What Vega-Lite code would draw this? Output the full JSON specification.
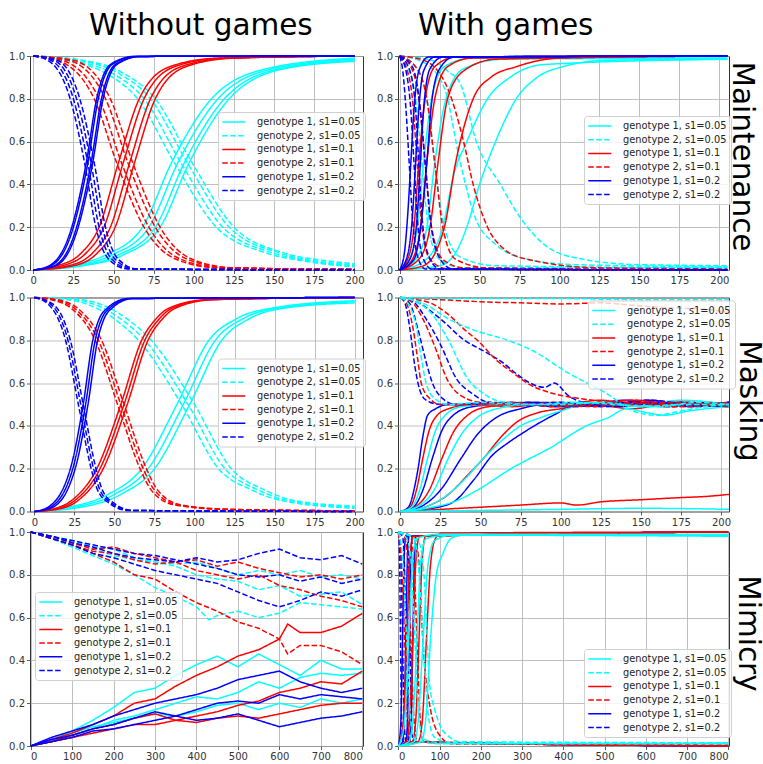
{
"$schema":"https://vega.github.io/schema/vega-lite/v6.json",
"background":"white",
"padding":{"left":8,"top":10,"right":0,"bottom":0},
"config":{
"view":{"stroke":"#333","strokeWidth":1},
"font":"DejaVu Sans",
"axis":{"labelFont":"DejaVu Sans","labelFontSize":10,"labelColor":"#333","tickColor":"#333","tickSize":3.5,"tickWidth":0.8,"domain":false,"grid":true,"gridColor":"#b0b0b0","gridWidth":0.8,"title":null,"labelPadding":2,"titleFontWeight":"normal"},
"legend":{"orient":"none","title":null,"labelFont":"DejaVu Sans","labelFontSize":9.8,"labelColor":"#222","symbolType":"M-2.3,0H2.3","symbolSize":100,"symbolStrokeWidth":1.5,"padding":4,"strokeColor":"#d0d0d0","fillColor":"rgba(255,255,255,0.8)","cornerRadius":3,"rowPadding":2.7,"labelOffset":17.3,"symbolOffset":5.8},
"line":{"strokeWidth":1.5}
},
"datasets":{
"p1":[
{"k":"a","r":1,"x":0,"y":0},{"k":"a","r":1,"x":20,"y":0.02},{"k":"a","r":1,"x":45,"y":0.07},{"k":"a","r":1,"x":68,"y":0.2},{"k":"a","r":1,"x":86,"y":0.5},{"k":"a","r":1,"x":111,"y":0.8},{"k":"a","r":1,"x":145,"y":0.94},{"k":"a","r":1,"x":200,"y":0.99},
{"k":"a","r":2,"x":0,"y":0},{"k":"a","r":2,"x":24,"y":0.02},{"k":"a","r":2,"x":49,"y":0.07},{"k":"a","r":2,"x":72,"y":0.2},{"k":"a","r":2,"x":90,"y":0.5},{"k":"a","r":2,"x":115,"y":0.8},{"k":"a","r":2,"x":149,"y":0.94},{"k":"a","r":2,"x":200,"y":0.985},
{"k":"a","r":3,"x":0,"y":0},{"k":"a","r":3,"x":28,"y":0.02},{"k":"a","r":3,"x":53,"y":0.07},{"k":"a","r":3,"x":76,"y":0.2},{"k":"a","r":3,"x":94,"y":0.5},{"k":"a","r":3,"x":119,"y":0.8},{"k":"a","r":3,"x":153,"y":0.94},{"k":"a","r":3,"x":200,"y":0.98},
{"k":"a","r":4,"x":0,"y":0},{"k":"a","r":4,"x":31,"y":0.02},{"k":"a","r":4,"x":56,"y":0.07},{"k":"a","r":4,"x":79,"y":0.2},{"k":"a","r":4,"x":97,"y":0.5},{"k":"a","r":4,"x":122,"y":0.8},{"k":"a","r":4,"x":156,"y":0.94},{"k":"a","r":4,"x":200,"y":0.975},
{"k":"b","r":1,"x":0,"y":1},{"k":"b","r":1,"x":20,"y":0.98},{"k":"b","r":1,"x":45,"y":0.92},{"k":"b","r":1,"x":65,"y":0.8},{"k":"b","r":1,"x":88,"y":0.5},{"k":"b","r":1,"x":114,"y":0.2},{"k":"b","r":1,"x":145,"y":0.08},{"k":"b","r":1,"x":170,"y":0.04},{"k":"b","r":1,"x":200,"y":0.015},
{"k":"b","r":2,"x":0,"y":1},{"k":"b","r":2,"x":24,"y":0.98},{"k":"b","r":2,"x":49,"y":0.92},{"k":"b","r":2,"x":69,"y":0.8},{"k":"b","r":2,"x":92,"y":0.5},{"k":"b","r":2,"x":118,"y":0.2},{"k":"b","r":2,"x":149,"y":0.08},{"k":"b","r":2,"x":174,"y":0.04},{"k":"b","r":2,"x":200,"y":0.02},
{"k":"b","r":3,"x":0,"y":1},{"k":"b","r":3,"x":28,"y":0.98},{"k":"b","r":3,"x":53,"y":0.92},{"k":"b","r":3,"x":73,"y":0.8},{"k":"b","r":3,"x":96,"y":0.5},{"k":"b","r":3,"x":122,"y":0.2},{"k":"b","r":3,"x":153,"y":0.08},{"k":"b","r":3,"x":178,"y":0.04},{"k":"b","r":3,"x":200,"y":0.025},
{"k":"b","r":4,"x":0,"y":1},{"k":"b","r":4,"x":31,"y":0.98},{"k":"b","r":4,"x":56,"y":0.92},{"k":"b","r":4,"x":76,"y":0.8},{"k":"b","r":4,"x":99,"y":0.5},{"k":"b","r":4,"x":125,"y":0.2},{"k":"b","r":4,"x":156,"y":0.08},{"k":"b","r":4,"x":181,"y":0.045},{"k":"b","r":4,"x":200,"y":0.03},
{"k":"c","r":1,"x":0,"y":0},{"k":"c","r":1,"x":15,"y":0.02},{"k":"c","r":1,"x":30,"y":0.08},{"k":"c","r":1,"x":41,"y":0.2},{"k":"c","r":1,"x":53,"y":0.5},{"k":"c","r":1,"x":66,"y":0.8},{"k":"c","r":1,"x":85,"y":0.95},{"k":"c","r":1,"x":115,"y":0.99},{"k":"c","r":1,"x":200,"y":1},
{"k":"c","r":2,"x":0,"y":0},{"k":"c","r":2,"x":18,"y":0.02},{"k":"c","r":2,"x":33,"y":0.08},{"k":"c","r":2,"x":44,"y":0.2},{"k":"c","r":2,"x":56,"y":0.5},{"k":"c","r":2,"x":69,"y":0.8},{"k":"c","r":2,"x":88,"y":0.95},{"k":"c","r":2,"x":118,"y":0.99},{"k":"c","r":2,"x":200,"y":1},
{"k":"c","r":3,"x":0,"y":0},{"k":"c","r":3,"x":22,"y":0.02},{"k":"c","r":3,"x":37,"y":0.08},{"k":"c","r":3,"x":48,"y":0.2},{"k":"c","r":3,"x":60,"y":0.5},{"k":"c","r":3,"x":73,"y":0.8},{"k":"c","r":3,"x":92,"y":0.95},{"k":"c","r":3,"x":122,"y":0.99},{"k":"c","r":3,"x":200,"y":1},
{"k":"c","r":4,"x":0,"y":0},{"k":"c","r":4,"x":25,"y":0.02},{"k":"c","r":4,"x":40,"y":0.08},{"k":"c","r":4,"x":51,"y":0.2},{"k":"c","r":4,"x":63,"y":0.5},{"k":"c","r":4,"x":76,"y":0.8},{"k":"c","r":4,"x":95,"y":0.95},{"k":"c","r":4,"x":125,"y":0.99},{"k":"c","r":4,"x":200,"y":1},
{"k":"d","r":1,"x":0,"y":1},{"k":"d","r":1,"x":15,"y":0.98},{"k":"d","r":1,"x":38,"y":0.8},{"k":"d","r":1,"x":52,"y":0.5},{"k":"d","r":1,"x":69,"y":0.2},{"k":"d","r":1,"x":89,"y":0.05},{"k":"d","r":1,"x":115,"y":0.01},{"k":"d","r":1,"x":200,"y":0.003},
{"k":"d","r":2,"x":0,"y":1},{"k":"d","r":2,"x":18,"y":0.98},{"k":"d","r":2,"x":41,"y":0.8},{"k":"d","r":2,"x":55,"y":0.5},{"k":"d","r":2,"x":72,"y":0.2},{"k":"d","r":2,"x":92,"y":0.05},{"k":"d","r":2,"x":118,"y":0.01},{"k":"d","r":2,"x":200,"y":0.003},
{"k":"d","r":3,"x":0,"y":1},{"k":"d","r":3,"x":22,"y":0.98},{"k":"d","r":3,"x":45,"y":0.8},{"k":"d","r":3,"x":59,"y":0.5},{"k":"d","r":3,"x":76,"y":0.2},{"k":"d","r":3,"x":96,"y":0.05},{"k":"d","r":3,"x":122,"y":0.01},{"k":"d","r":3,"x":200,"y":0.003},
{"k":"d","r":4,"x":0,"y":1},{"k":"d","r":4,"x":25,"y":0.98},{"k":"d","r":4,"x":48,"y":0.8},{"k":"d","r":4,"x":62,"y":0.5},{"k":"d","r":4,"x":79,"y":0.2},{"k":"d","r":4,"x":99,"y":0.05},{"k":"d","r":4,"x":125,"y":0.01},{"k":"d","r":4,"x":200,"y":0.003},
{"k":"e","r":1,"x":0,"y":0},{"k":"e","r":1,"x":10,"y":0.02},{"k":"e","r":1,"x":24,"y":0.2},{"k":"e","r":1,"x":33,"y":0.5},{"k":"e","r":1,"x":39.5,"y":0.8},{"k":"e","r":1,"x":48,"y":0.96},{"k":"e","r":1,"x":63,"y":0.998},{"k":"e","r":1,"x":200,"y":1},
{"k":"e","r":2,"x":0,"y":0},{"k":"e","r":2,"x":11,"y":0.02},{"k":"e","r":2,"x":25,"y":0.2},{"k":"e","r":2,"x":34,"y":0.5},{"k":"e","r":2,"x":40.5,"y":0.8},{"k":"e","r":2,"x":49,"y":0.96},{"k":"e","r":2,"x":64,"y":0.998},{"k":"e","r":2,"x":200,"y":1},
{"k":"e","r":3,"x":0,"y":0},{"k":"e","r":3,"x":13,"y":0.02},{"k":"e","r":3,"x":27,"y":0.2},{"k":"e","r":3,"x":36,"y":0.5},{"k":"e","r":3,"x":42.5,"y":0.8},{"k":"e","r":3,"x":51,"y":0.96},{"k":"e","r":3,"x":66,"y":0.998},{"k":"e","r":3,"x":200,"y":1},
{"k":"e","r":4,"x":0,"y":0},{"k":"e","r":4,"x":14,"y":0.02},{"k":"e","r":4,"x":28,"y":0.2},{"k":"e","r":4,"x":37,"y":0.5},{"k":"e","r":4,"x":43.5,"y":0.8},{"k":"e","r":4,"x":52,"y":0.96},{"k":"e","r":4,"x":67,"y":0.998},{"k":"e","r":4,"x":200,"y":1},
{"k":"f","r":1,"x":0,"y":1},{"k":"f","r":1,"x":9,"y":0.98},{"k":"f","r":1,"x":23,"y":0.8},{"k":"f","r":1,"x":32,"y":0.5},{"k":"f","r":1,"x":39,"y":0.2},{"k":"f","r":1,"x":47,"y":0.05},{"k":"f","r":1,"x":59,"y":0.005},{"k":"f","r":1,"x":200,"y":0},
{"k":"f","r":2,"x":0,"y":1},{"k":"f","r":2,"x":11,"y":0.98},{"k":"f","r":2,"x":25,"y":0.8},{"k":"f","r":2,"x":34,"y":0.5},{"k":"f","r":2,"x":41,"y":0.2},{"k":"f","r":2,"x":49,"y":0.05},{"k":"f","r":2,"x":61,"y":0.005},{"k":"f","r":2,"x":200,"y":0},
{"k":"f","r":3,"x":0,"y":1},{"k":"f","r":3,"x":13,"y":0.98},{"k":"f","r":3,"x":27,"y":0.8},{"k":"f","r":3,"x":36,"y":0.5},{"k":"f","r":3,"x":43,"y":0.2},{"k":"f","r":3,"x":51,"y":0.05},{"k":"f","r":3,"x":63,"y":0.005},{"k":"f","r":3,"x":200,"y":0},
{"k":"f","r":4,"x":0,"y":1},{"k":"f","r":4,"x":15,"y":0.98},{"k":"f","r":4,"x":29,"y":0.8},{"k":"f","r":4,"x":38,"y":0.5},{"k":"f","r":4,"x":45,"y":0.2},{"k":"f","r":4,"x":53,"y":0.05},{"k":"f","r":4,"x":65,"y":0.005},{"k":"f","r":4,"x":200,"y":0}
],
"p2":[
{"k":"a","r":1,"x":0,"y":0},{"k":"a","r":1,"x":6,"y":0.05},{"k":"a","r":1,"x":11,"y":0.2},{"k":"a","r":1,"x":15,"y":0.5},{"k":"a","r":1,"x":20,"y":0.8},{"k":"a","r":1,"x":28,"y":0.95},{"k":"a","r":1,"x":45,"y":0.99},{"k":"a","r":1,"x":205,"y":0.99},
{"k":"a","r":2,"x":0,"y":0},{"k":"a","r":2,"x":10,"y":0.05},{"k":"a","r":2,"x":17,"y":0.2},{"k":"a","r":2,"x":22,"y":0.5},{"k":"a","r":2,"x":29,"y":0.8},{"k":"a","r":2,"x":40,"y":0.94},{"k":"a","r":2,"x":65,"y":0.985},{"k":"a","r":2,"x":205,"y":0.99},
{"k":"a","r":3,"x":0,"y":0},{"k":"a","r":3,"x":15,"y":0.04},{"k":"a","r":3,"x":27,"y":0.2},{"k":"a","r":3,"x":34,"y":0.45},{"k":"a","r":3,"x":42,"y":0.6},{"k":"a","r":3,"x":55,"y":0.8},{"k":"a","r":3,"x":69,"y":0.9},{"k":"a","r":3,"x":90,"y":0.96},{"k":"a","r":3,"x":205,"y":0.985},
{"k":"a","r":4,"x":0,"y":0},{"k":"a","r":4,"x":25,"y":0.02},{"k":"a","r":4,"x":35,"y":0.08},{"k":"a","r":4,"x":42,"y":0.2},{"k":"a","r":4,"x":50,"y":0.4},{"k":"a","r":4,"x":60,"y":0.6},{"k":"a","r":4,"x":73,"y":0.8},{"k":"a","r":4,"x":86,"y":0.9},{"k":"a","r":4,"x":102,"y":0.95},{"k":"a","r":4,"x":130,"y":0.98},{"k":"a","r":4,"x":205,"y":0.985},
{"k":"b","r":1,"x":0,"y":1},{"k":"b","r":1,"x":5,"y":0.95},{"k":"b","r":1,"x":10,"y":0.8},{"k":"b","r":1,"x":14,"y":0.5},{"k":"b","r":1,"x":18,"y":0.2},{"k":"b","r":1,"x":25,"y":0.05},{"k":"b","r":1,"x":40,"y":0.01},{"k":"b","r":1,"x":205,"y":0.01},
{"k":"b","r":2,"x":0,"y":1},{"k":"b","r":2,"x":10,"y":0.95},{"k":"b","r":2,"x":17,"y":0.8},{"k":"b","r":2,"x":22,"y":0.5},{"k":"b","r":2,"x":28,"y":0.2},{"k":"b","r":2,"x":38,"y":0.06},{"k":"b","r":2,"x":60,"y":0.02},{"k":"b","r":2,"x":205,"y":0.01},
{"k":"b","r":3,"x":0,"y":1},{"k":"b","r":3,"x":15,"y":0.97},{"k":"b","r":3,"x":28,"y":0.85},{"k":"b","r":3,"x":38,"y":0.5},{"k":"b","r":3,"x":47,"y":0.25},{"k":"b","r":3,"x":60,"y":0.12},{"k":"b","r":3,"x":80,"y":0.05},{"k":"b","r":3,"x":110,"y":0.025},{"k":"b","r":3,"x":205,"y":0.015},
{"k":"b","r":4,"x":0,"y":1},{"k":"b","r":4,"x":20,"y":0.98},{"k":"b","r":4,"x":30,"y":0.93},{"k":"b","r":4,"x":38,"y":0.87},{"k":"b","r":4,"x":48,"y":0.6},{"k":"b","r":4,"x":63,"y":0.4},{"k":"b","r":4,"x":75,"y":0.25},{"k":"b","r":4,"x":94,"y":0.1},{"k":"b","r":4,"x":115,"y":0.05},{"k":"b","r":4,"x":150,"y":0.025},{"k":"b","r":4,"x":205,"y":0.02},
{"k":"c","r":1,"x":0,"y":0},{"k":"c","r":1,"x":5,"y":0.05},{"k":"c","r":1,"x":9,"y":0.2},{"k":"c","r":1,"x":12,"y":0.5},{"k":"c","r":1,"x":16,"y":0.8},{"k":"c","r":1,"x":22,"y":0.95},{"k":"c","r":1,"x":35,"y":0.995},{"k":"c","r":1,"x":205,"y":1},
{"k":"c","r":2,"x":0,"y":0},{"k":"c","r":2,"x":8,"y":0.05},{"k":"c","r":2,"x":13,"y":0.2},{"k":"c","r":2,"x":17,"y":0.5},{"k":"c","r":2,"x":22,"y":0.8},{"k":"c","r":2,"x":30,"y":0.95},{"k":"c","r":2,"x":45,"y":0.99},{"k":"c","r":2,"x":205,"y":1},
{"k":"c","r":3,"x":0,"y":0},{"k":"c","r":3,"x":12,"y":0.05},{"k":"c","r":3,"x":19,"y":0.2},{"k":"c","r":3,"x":24,"y":0.5},{"k":"c","r":3,"x":30,"y":0.8},{"k":"c","r":3,"x":40,"y":0.93},{"k":"c","r":3,"x":60,"y":0.985},{"k":"c","r":3,"x":205,"y":1},
{"k":"c","r":4,"x":0,"y":0},{"k":"c","r":4,"x":15,"y":0.02},{"k":"c","r":4,"x":28,"y":0.2},{"k":"c","r":4,"x":35,"y":0.5},{"k":"c","r":4,"x":46,"y":0.8},{"k":"c","r":4,"x":57,"y":0.9},{"k":"c","r":4,"x":73,"y":0.95},{"k":"c","r":4,"x":100,"y":0.99},{"k":"c","r":4,"x":205,"y":1},
{"k":"d","r":1,"x":0,"y":1},{"k":"d","r":1,"x":4,"y":0.95},{"k":"d","r":1,"x":8,"y":0.8},{"k":"d","r":1,"x":11,"y":0.5},{"k":"d","r":1,"x":14,"y":0.2},{"k":"d","r":1,"x":19,"y":0.05},{"k":"d","r":1,"x":30,"y":0.005},{"k":"d","r":1,"x":205,"y":0},
{"k":"d","r":2,"x":0,"y":1},{"k":"d","r":2,"x":7,"y":0.95},{"k":"d","r":2,"x":12,"y":0.8},{"k":"d","r":2,"x":16,"y":0.5},{"k":"d","r":2,"x":20,"y":0.2},{"k":"d","r":2,"x":27,"y":0.05},{"k":"d","r":2,"x":40,"y":0.01},{"k":"d","r":2,"x":205,"y":0},
{"k":"d","r":3,"x":0,"y":1},{"k":"d","r":3,"x":10,"y":0.95},{"k":"d","r":3,"x":17,"y":0.8},{"k":"d","r":3,"x":22,"y":0.5},{"k":"d","r":3,"x":27,"y":0.2},{"k":"d","r":3,"x":35,"y":0.05},{"k":"d","r":3,"x":55,"y":0.01},{"k":"d","r":3,"x":205,"y":0},
{"k":"d","r":4,"x":0,"y":1},{"k":"d","r":4,"x":15,"y":0.98},{"k":"d","r":4,"x":30,"y":0.85},{"k":"d","r":4,"x":40,"y":0.6},{"k":"d","r":4,"x":46,"y":0.4},{"k":"d","r":4,"x":55,"y":0.2},{"k":"d","r":4,"x":65,"y":0.1},{"k":"d","r":4,"x":80,"y":0.05},{"k":"d","r":4,"x":125,"y":0.01},{"k":"d","r":4,"x":205,"y":0.005},
{"k":"e","r":1,"x":0,"y":0},{"k":"e","r":1,"x":3,"y":0.08},{"k":"e","r":1,"x":5,"y":0.25},{"k":"e","r":1,"x":7,"y":0.5},{"k":"e","r":1,"x":9,"y":0.75},{"k":"e","r":1,"x":12,"y":0.93},{"k":"e","r":1,"x":18,"y":0.995},{"k":"e","r":1,"x":205,"y":1},
{"k":"e","r":2,"x":0,"y":0},{"k":"e","r":2,"x":5,"y":0.07},{"k":"e","r":2,"x":8,"y":0.25},{"k":"e","r":2,"x":10,"y":0.5},{"k":"e","r":2,"x":12,"y":0.75},{"k":"e","r":2,"x":15,"y":0.93},{"k":"e","r":2,"x":22,"y":0.995},{"k":"e","r":2,"x":205,"y":1},
{"k":"e","r":3,"x":0,"y":0},{"k":"e","r":3,"x":7,"y":0.06},{"k":"e","r":3,"x":11,"y":0.25},{"k":"e","r":3,"x":13,"y":0.5},{"k":"e","r":3,"x":15,"y":0.75},{"k":"e","r":3,"x":19,"y":0.94},{"k":"e","r":3,"x":27,"y":0.995},{"k":"e","r":3,"x":205,"y":1},
{"k":"e","r":4,"x":0,"y":0},{"k":"e","r":4,"x":9,"y":0.05},{"k":"e","r":4,"x":14,"y":0.25},{"k":"e","r":4,"x":17,"y":0.5},{"k":"e","r":4,"x":20,"y":0.78},{"k":"e","r":4,"x":25,"y":0.94},{"k":"e","r":4,"x":34,"y":0.995},{"k":"e","r":4,"x":205,"y":1},
{"k":"f","r":1,"x":0,"y":1},{"k":"f","r":1,"x":2,"y":0.93},{"k":"f","r":1,"x":4,"y":0.75},{"k":"f","r":1,"x":6,"y":0.5},{"k":"f","r":1,"x":8,"y":0.25},{"k":"f","r":1,"x":11,"y":0.07},{"k":"f","r":1,"x":16,"y":0.005},{"k":"f","r":1,"x":205,"y":0},
{"k":"f","r":2,"x":0,"y":1},{"k":"f","r":2,"x":4,"y":0.93},{"k":"f","r":2,"x":7,"y":0.75},{"k":"f","r":2,"x":9,"y":0.5},{"k":"f","r":2,"x":11,"y":0.25},{"k":"f","r":2,"x":14,"y":0.07},{"k":"f","r":2,"x":20,"y":0.005},{"k":"f","r":2,"x":205,"y":0},
{"k":"f","r":3,"x":0,"y":1},{"k":"f","r":3,"x":6,"y":0.94},{"k":"f","r":3,"x":10,"y":0.75},{"k":"f","r":3,"x":12,"y":0.5},{"k":"f","r":3,"x":14,"y":0.25},{"k":"f","r":3,"x":18,"y":0.07},{"k":"f","r":3,"x":25,"y":0.005},{"k":"f","r":3,"x":205,"y":0},
{"k":"f","r":4,"x":0,"y":1},{"k":"f","r":4,"x":8,"y":0.95},{"k":"f","r":4,"x":13,"y":0.75},{"k":"f","r":4,"x":16,"y":0.5},{"k":"f","r":4,"x":19,"y":0.25},{"k":"f","r":4,"x":24,"y":0.07},{"k":"f","r":4,"x":33,"y":0.005},{"k":"f","r":4,"x":205,"y":0}
],
"p3":[
{"k":"a","r":1,"x":0,"y":0},{"k":"a","r":1,"x":21,"y":0.02},{"k":"a","r":1,"x":46,"y":0.08},{"k":"a","r":1,"x":67,"y":0.2},{"k":"a","r":1,"x":89,"y":0.5},{"k":"a","r":1,"x":109,"y":0.8},{"k":"a","r":1,"x":126,"y":0.9},{"k":"a","r":1,"x":148,"y":0.95},{"k":"a","r":1,"x":200,"y":0.985},
{"k":"a","r":2,"x":0,"y":0},{"k":"a","r":2,"x":25,"y":0.02},{"k":"a","r":2,"x":50,"y":0.08},{"k":"a","r":2,"x":71,"y":0.2},{"k":"a","r":2,"x":93,"y":0.5},{"k":"a","r":2,"x":113,"y":0.8},{"k":"a","r":2,"x":130,"y":0.9},{"k":"a","r":2,"x":152,"y":0.95},{"k":"a","r":2,"x":200,"y":0.98},
{"k":"a","r":3,"x":0,"y":0},{"k":"a","r":3,"x":29,"y":0.02},{"k":"a","r":3,"x":54,"y":0.08},{"k":"a","r":3,"x":75,"y":0.2},{"k":"a","r":3,"x":97,"y":0.5},{"k":"a","r":3,"x":117,"y":0.8},{"k":"a","r":3,"x":134,"y":0.9},{"k":"a","r":3,"x":156,"y":0.95},{"k":"a","r":3,"x":200,"y":0.975},
{"k":"b","r":1,"x":0,"y":1},{"k":"b","r":1,"x":21,"y":0.99},{"k":"b","r":1,"x":50,"y":0.9},{"k":"b","r":1,"x":65,"y":0.8},{"k":"b","r":1,"x":92,"y":0.5},{"k":"b","r":1,"x":115,"y":0.2},{"k":"b","r":1,"x":136,"y":0.1},{"k":"b","r":1,"x":155,"y":0.05},{"k":"b","r":1,"x":200,"y":0.015},
{"k":"b","r":2,"x":0,"y":1},{"k":"b","r":2,"x":25,"y":0.99},{"k":"b","r":2,"x":54,"y":0.9},{"k":"b","r":2,"x":69,"y":0.8},{"k":"b","r":2,"x":96,"y":0.5},{"k":"b","r":2,"x":119,"y":0.2},{"k":"b","r":2,"x":140,"y":0.1},{"k":"b","r":2,"x":159,"y":0.05},{"k":"b","r":2,"x":200,"y":0.02},
{"k":"b","r":3,"x":0,"y":1},{"k":"b","r":3,"x":29,"y":0.99},{"k":"b","r":3,"x":58,"y":0.9},{"k":"b","r":3,"x":73,"y":0.8},{"k":"b","r":3,"x":100,"y":0.5},{"k":"b","r":3,"x":123,"y":0.2},{"k":"b","r":3,"x":144,"y":0.1},{"k":"b","r":3,"x":163,"y":0.05},{"k":"b","r":3,"x":200,"y":0.025},
{"k":"c","r":1,"x":0,"y":0},{"k":"c","r":1,"x":10,"y":0.01},{"k":"c","r":1,"x":23,"y":0.05},{"k":"c","r":1,"x":39,"y":0.2},{"k":"c","r":1,"x":54,"y":0.5},{"k":"c","r":1,"x":67,"y":0.8},{"k":"c","r":1,"x":76,"y":0.9},{"k":"c","r":1,"x":84,"y":0.95},{"k":"c","r":1,"x":108,"y":0.99},{"k":"c","r":1,"x":200,"y":1},
{"k":"c","r":2,"x":0,"y":0},{"k":"c","r":2,"x":12,"y":0.01},{"k":"c","r":2,"x":25,"y":0.05},{"k":"c","r":2,"x":41,"y":0.2},{"k":"c","r":2,"x":56,"y":0.5},{"k":"c","r":2,"x":69,"y":0.8},{"k":"c","r":2,"x":78,"y":0.9},{"k":"c","r":2,"x":86,"y":0.95},{"k":"c","r":2,"x":110,"y":0.99},{"k":"c","r":2,"x":200,"y":1},
{"k":"c","r":3,"x":0,"y":0},{"k":"c","r":3,"x":14,"y":0.01},{"k":"c","r":3,"x":27,"y":0.05},{"k":"c","r":3,"x":43,"y":0.2},{"k":"c","r":3,"x":58,"y":0.5},{"k":"c","r":3,"x":71,"y":0.8},{"k":"c","r":3,"x":80,"y":0.9},{"k":"c","r":3,"x":88,"y":0.95},{"k":"c","r":3,"x":112,"y":0.99},{"k":"c","r":3,"x":200,"y":1},
{"k":"d","r":1,"x":0,"y":1},{"k":"d","r":1,"x":10,"y":0.99},{"k":"d","r":1,"x":23,"y":0.95},{"k":"d","r":1,"x":38,"y":0.8},{"k":"d","r":1,"x":52,"y":0.5},{"k":"d","r":1,"x":66,"y":0.2},{"k":"d","r":1,"x":73,"y":0.1},{"k":"d","r":1,"x":88,"y":0.03},{"k":"d","r":1,"x":118,"y":0.01},{"k":"d","r":1,"x":200,"y":0.003},
{"k":"d","r":2,"x":0,"y":1},{"k":"d","r":2,"x":12,"y":0.99},{"k":"d","r":2,"x":25,"y":0.95},{"k":"d","r":2,"x":40,"y":0.8},{"k":"d","r":2,"x":54,"y":0.5},{"k":"d","r":2,"x":68,"y":0.2},{"k":"d","r":2,"x":75,"y":0.1},{"k":"d","r":2,"x":90,"y":0.03},{"k":"d","r":2,"x":120,"y":0.01},{"k":"d","r":2,"x":200,"y":0.003},
{"k":"d","r":3,"x":0,"y":1},{"k":"d","r":3,"x":14,"y":0.99},{"k":"d","r":3,"x":27,"y":0.95},{"k":"d","r":3,"x":42,"y":0.8},{"k":"d","r":3,"x":56,"y":0.5},{"k":"d","r":3,"x":70,"y":0.2},{"k":"d","r":3,"x":77,"y":0.1},{"k":"d","r":3,"x":92,"y":0.03},{"k":"d","r":3,"x":122,"y":0.01},{"k":"d","r":3,"x":200,"y":0.003},
{"k":"e","r":1,"x":0,"y":0},{"k":"e","r":1,"x":8.5,"y":0.02},{"k":"e","r":1,"x":22.5,"y":0.2},{"k":"e","r":1,"x":30.5,"y":0.5},{"k":"e","r":1,"x":36.5,"y":0.8},{"k":"e","r":1,"x":40.5,"y":0.9},{"k":"e","r":1,"x":45.5,"y":0.95},{"k":"e","r":1,"x":58.5,"y":0.995},{"k":"e","r":1,"x":200,"y":1},
{"k":"e","r":2,"x":0,"y":0},{"k":"e","r":2,"x":10,"y":0.02},{"k":"e","r":2,"x":24,"y":0.2},{"k":"e","r":2,"x":32,"y":0.5},{"k":"e","r":2,"x":38,"y":0.8},{"k":"e","r":2,"x":42,"y":0.9},{"k":"e","r":2,"x":47,"y":0.95},{"k":"e","r":2,"x":60,"y":0.995},{"k":"e","r":2,"x":200,"y":1},
{"k":"e","r":3,"x":0,"y":0},{"k":"e","r":3,"x":11.5,"y":0.02},{"k":"e","r":3,"x":25.5,"y":0.2},{"k":"e","r":3,"x":33.5,"y":0.5},{"k":"e","r":3,"x":39.5,"y":0.8},{"k":"e","r":3,"x":43.5,"y":0.9},{"k":"e","r":3,"x":48.5,"y":0.95},{"k":"e","r":3,"x":61.5,"y":0.995},{"k":"e","r":3,"x":200,"y":1},
{"k":"f","r":1,"x":0,"y":1},{"k":"f","r":1,"x":8.5,"y":0.97},{"k":"f","r":1,"x":19.5,"y":0.8},{"k":"f","r":1,"x":27.5,"y":0.5},{"k":"f","r":1,"x":35.5,"y":0.2},{"k":"f","r":1,"x":39.5,"y":0.1},{"k":"f","r":1,"x":46.5,"y":0.04},{"k":"f","r":1,"x":58.5,"y":0.005},{"k":"f","r":1,"x":200,"y":0},
{"k":"f","r":2,"x":0,"y":1},{"k":"f","r":2,"x":10,"y":0.97},{"k":"f","r":2,"x":21,"y":0.8},{"k":"f","r":2,"x":29,"y":0.5},{"k":"f","r":2,"x":37,"y":0.2},{"k":"f","r":2,"x":41,"y":0.1},{"k":"f","r":2,"x":48,"y":0.04},{"k":"f","r":2,"x":60,"y":0.005},{"k":"f","r":2,"x":200,"y":0},
{"k":"f","r":3,"x":0,"y":1},{"k":"f","r":3,"x":11.5,"y":0.97},{"k":"f","r":3,"x":22.5,"y":0.8},{"k":"f","r":3,"x":30.5,"y":0.5},{"k":"f","r":3,"x":38.5,"y":0.2},{"k":"f","r":3,"x":42.5,"y":0.1},{"k":"f","r":3,"x":49.5,"y":0.04},{"k":"f","r":3,"x":61.5,"y":0.005},{"k":"f","r":3,"x":200,"y":0}
],
"p4":[
{"k":"e","r":1,"x":0,"y":0},{"k":"e","r":1,"x":5,"y":0.02},{"k":"e","r":1,"x":9,"y":0.12},{"k":"e","r":1,"x":11,"y":0.2},{"k":"e","r":1,"x":14,"y":0.35},{"k":"e","r":1,"x":17,"y":0.45},{"k":"e","r":1,"x":22,"y":0.48},{"k":"e","r":1,"x":30,"y":0.5},{"k":"e","r":1,"x":55,"y":0.5},{"k":"e","r":1,"x":80,"y":0.51},{"k":"e","r":1,"x":105,"y":0.49},{"k":"e","r":1,"x":130,"y":0.5},{"k":"e","r":1,"x":155,"y":0.51},{"k":"e","r":1,"x":180,"y":0.49},{"k":"e","r":1,"x":205,"y":0.5},
{"k":"e","r":2,"x":0,"y":0},{"k":"e","r":2,"x":8,"y":0.02},{"k":"e","r":2,"x":14,"y":0.1},{"k":"e","r":2,"x":20,"y":0.25},{"k":"e","r":2,"x":26,"y":0.38},{"k":"e","r":2,"x":33,"y":0.45},{"k":"e","r":2,"x":45,"y":0.49},{"k":"e","r":2,"x":60,"y":0.5},{"k":"e","r":2,"x":85,"y":0.51},{"k":"e","r":2,"x":110,"y":0.5},{"k":"e","r":2,"x":135,"y":0.49},{"k":"e","r":2,"x":160,"y":0.51},{"k":"e","r":2,"x":185,"y":0.5},{"k":"e","r":2,"x":205,"y":0.51},
{"k":"e","r":3,"x":0,"y":0},{"k":"e","r":3,"x":12,"y":0.02},{"k":"e","r":3,"x":25,"y":0.1},{"k":"e","r":3,"x":38,"y":0.25},{"k":"e","r":3,"x":48,"y":0.36},{"k":"e","r":3,"x":60,"y":0.44},{"k":"e","r":3,"x":75,"y":0.48},{"k":"e","r":3,"x":90,"y":0.5},{"k":"e","r":3,"x":115,"y":0.5},{"k":"e","r":3,"x":140,"y":0.52},{"k":"e","r":3,"x":165,"y":0.49},{"k":"e","r":3,"x":190,"y":0.51},{"k":"e","r":3,"x":205,"y":0.5},
{"k":"e","r":4,"x":0,"y":0},{"k":"e","r":4,"x":15,"y":0.01},{"k":"e","r":4,"x":32,"y":0.04},{"k":"e","r":4,"x":46,"y":0.15},{"k":"e","r":4,"x":57,"y":0.26},{"k":"e","r":4,"x":67,"y":0.32},{"k":"e","r":4,"x":77,"y":0.37},{"k":"e","r":4,"x":88,"y":0.42},{"k":"e","r":4,"x":98,"y":0.46},{"k":"e","r":4,"x":108,"y":0.5},{"k":"e","r":4,"x":130,"y":0.5},{"k":"e","r":4,"x":155,"y":0.52},{"k":"e","r":4,"x":180,"y":0.5},{"k":"e","r":4,"x":205,"y":0.51},
{"k":"c","r":1,"x":0,"y":0},{"k":"c","r":1,"x":6,"y":0.02},{"k":"c","r":1,"x":10,"y":0.1},{"k":"c","r":1,"x":14,"y":0.25},{"k":"c","r":1,"x":18,"y":0.38},{"k":"c","r":1,"x":23,"y":0.45},{"k":"c","r":1,"x":30,"y":0.48},{"k":"c","r":1,"x":45,"y":0.5},{"k":"c","r":1,"x":70,"y":0.49},{"k":"c","r":1,"x":95,"y":0.51},{"k":"c","r":1,"x":120,"y":0.5},{"k":"c","r":1,"x":145,"y":0.52},{"k":"c","r":1,"x":170,"y":0.5},{"k":"c","r":1,"x":205,"y":0.49},
{"k":"c","r":2,"x":0,"y":0},{"k":"c","r":2,"x":9,"y":0.02},{"k":"c","r":2,"x":18,"y":0.1},{"k":"c","r":2,"x":26,"y":0.25},{"k":"c","r":2,"x":33,"y":0.37},{"k":"c","r":2,"x":42,"y":0.45},{"k":"c","r":2,"x":55,"y":0.49},{"k":"c","r":2,"x":75,"y":0.5},{"k":"c","r":2,"x":100,"y":0.5},{"k":"c","r":2,"x":125,"y":0.52},{"k":"c","r":2,"x":150,"y":0.49},{"k":"c","r":2,"x":175,"y":0.51},{"k":"c","r":2,"x":205,"y":0.5},
{"k":"c","r":3,"x":0,"y":0},{"k":"c","r":3,"x":15,"y":0.02},{"k":"c","r":3,"x":30,"y":0.08},{"k":"c","r":3,"x":42,"y":0.17},{"k":"c","r":3,"x":52,"y":0.25},{"k":"c","r":3,"x":63,"y":0.35},{"k":"c","r":3,"x":73,"y":0.42},{"k":"c","r":3,"x":85,"y":0.46},{"k":"c","r":3,"x":100,"y":0.48},{"k":"c","r":3,"x":120,"y":0.5},{"k":"c","r":3,"x":145,"y":0.48},{"k":"c","r":3,"x":170,"y":0.51},{"k":"c","r":3,"x":205,"y":0.5},
{"k":"c","r":4,"x":0,"y":0},{"k":"c","r":4,"x":25,"y":0.01},{"k":"c","r":4,"x":50,"y":0.02},{"k":"c","r":4,"x":75,"y":0.03},{"k":"c","r":4,"x":100,"y":0.04},{"k":"c","r":4,"x":110,"y":0.03},{"k":"c","r":4,"x":125,"y":0.045},{"k":"c","r":4,"x":150,"y":0.055},{"k":"c","r":4,"x":175,"y":0.065},{"k":"c","r":4,"x":190,"y":0.07},{"k":"c","r":4,"x":205,"y":0.08},
{"k":"a","r":1,"x":0,"y":0},{"k":"a","r":1,"x":7,"y":0.02},{"k":"a","r":1,"x":12,"y":0.1},{"k":"a","r":1,"x":17,"y":0.25},{"k":"a","r":1,"x":22,"y":0.38},{"k":"a","r":1,"x":28,"y":0.45},{"k":"a","r":1,"x":38,"y":0.49},{"k":"a","r":1,"x":55,"y":0.5},{"k":"a","r":1,"x":80,"y":0.5},{"k":"a","r":1,"x":105,"y":0.51},{"k":"a","r":1,"x":130,"y":0.5},{"k":"a","r":1,"x":155,"y":0.49},{"k":"a","r":1,"x":180,"y":0.5},{"k":"a","r":1,"x":205,"y":0.49},
{"k":"a","r":2,"x":0,"y":0},{"k":"a","r":2,"x":10,"y":0.02},{"k":"a","r":2,"x":21,"y":0.1},{"k":"a","r":2,"x":30,"y":0.25},{"k":"a","r":2,"x":38,"y":0.36},{"k":"a","r":2,"x":48,"y":0.44},{"k":"a","r":2,"x":60,"y":0.48},{"k":"a","r":2,"x":80,"y":0.5},{"k":"a","r":2,"x":100,"y":0.49},{"k":"a","r":2,"x":125,"y":0.51},{"k":"a","r":2,"x":150,"y":0.5},{"k":"a","r":2,"x":175,"y":0.52},{"k":"a","r":2,"x":205,"y":0.5},
{"k":"a","r":3,"x":0,"y":0},{"k":"a","r":3,"x":15,"y":0.02},{"k":"a","r":3,"x":28,"y":0.07},{"k":"a","r":3,"x":40,"y":0.15},{"k":"a","r":3,"x":52,"y":0.25},{"k":"a","r":3,"x":63,"y":0.33},{"k":"a","r":3,"x":75,"y":0.4},{"k":"a","r":3,"x":88,"y":0.44},{"k":"a","r":3,"x":100,"y":0.47},{"k":"a","r":3,"x":115,"y":0.5},{"k":"a","r":3,"x":140,"y":0.5},{"k":"a","r":3,"x":165,"y":0.49},{"k":"a","r":3,"x":190,"y":0.5},{"k":"a","r":3,"x":205,"y":0.49},
{"k":"a","r":4,"x":0,"y":0},{"k":"a","r":4,"x":20,"y":0.02},{"k":"a","r":4,"x":35,"y":0.05},{"k":"a","r":4,"x":48,"y":0.1},{"k":"a","r":4,"x":69,"y":0.2},{"k":"a","r":4,"x":94,"y":0.3},{"k":"a","r":4,"x":116,"y":0.4},{"k":"a","r":4,"x":130,"y":0.44},{"k":"a","r":4,"x":141,"y":0.48},{"k":"a","r":4,"x":155,"y":0.46},{"k":"a","r":4,"x":165,"y":0.45},{"k":"a","r":4,"x":180,"y":0.47},{"k":"a","r":4,"x":205,"y":0.49},
{"k":"a","r":5,"x":0,"y":0},{"k":"a","r":5,"x":50,"y":0.005},{"k":"a","r":5,"x":100,"y":0.01},{"k":"a","r":5,"x":150,"y":0.015},{"k":"a","r":5,"x":205,"y":0.01},
{"k":"f","r":1,"x":0,"y":1},{"k":"f","r":1,"x":3,"y":0.97},{"k":"f","r":1,"x":6,"y":0.85},{"k":"f","r":1,"x":9,"y":0.68},{"k":"f","r":1,"x":12,"y":0.57},{"k":"f","r":1,"x":16,"y":0.52},{"k":"f","r":1,"x":25,"y":0.5},{"k":"f","r":1,"x":45,"y":0.5},{"k":"f","r":1,"x":70,"y":0.51},{"k":"f","r":1,"x":95,"y":0.49},{"k":"f","r":1,"x":120,"y":0.5},{"k":"f","r":1,"x":145,"y":0.51},{"k":"f","r":1,"x":170,"y":0.49},{"k":"f","r":1,"x":205,"y":0.51},
{"k":"f","r":2,"x":0,"y":1},{"k":"f","r":2,"x":6,"y":0.97},{"k":"f","r":2,"x":11,"y":0.85},{"k":"f","r":2,"x":16,"y":0.7},{"k":"f","r":2,"x":20,"y":0.6},{"k":"f","r":2,"x":26,"y":0.53},{"k":"f","r":2,"x":35,"y":0.5},{"k":"f","r":2,"x":55,"y":0.51},{"k":"f","r":2,"x":80,"y":0.5},{"k":"f","r":2,"x":105,"y":0.49},{"k":"f","r":2,"x":130,"y":0.5},{"k":"f","r":2,"x":155,"y":0.52},{"k":"f","r":2,"x":180,"y":0.5},{"k":"f","r":2,"x":205,"y":0.49},
{"k":"f","r":3,"x":0,"y":1},{"k":"f","r":3,"x":8,"y":0.98},{"k":"f","r":3,"x":16,"y":0.9},{"k":"f","r":3,"x":25,"y":0.78},{"k":"f","r":3,"x":35,"y":0.62},{"k":"f","r":3,"x":45,"y":0.55},{"k":"f","r":3,"x":55,"y":0.51},{"k":"f","r":3,"x":75,"y":0.5},{"k":"f","r":3,"x":100,"y":0.51},{"k":"f","r":3,"x":125,"y":0.49},{"k":"f","r":3,"x":150,"y":0.5},{"k":"f","r":3,"x":175,"y":0.51},{"k":"f","r":3,"x":205,"y":0.5},
{"k":"f","r":4,"x":0,"y":1},{"k":"f","r":4,"x":10,"y":0.98},{"k":"f","r":4,"x":25,"y":0.9},{"k":"f","r":4,"x":40,"y":0.8},{"k":"f","r":4,"x":52,"y":0.75},{"k":"f","r":4,"x":63,"y":0.7},{"k":"f","r":4,"x":73,"y":0.64},{"k":"f","r":4,"x":81,"y":0.6},{"k":"f","r":4,"x":90,"y":0.58},{"k":"f","r":4,"x":96,"y":0.6},{"k":"f","r":4,"x":105,"y":0.54},{"k":"f","r":4,"x":115,"y":0.51},{"k":"f","r":4,"x":135,"y":0.5},{"k":"f","r":4,"x":160,"y":0.51},{"k":"f","r":4,"x":185,"y":0.49},{"k":"f","r":4,"x":205,"y":0.5},
{"k":"d","r":1,"x":0,"y":1},{"k":"d","r":1,"x":4,"y":0.97},{"k":"d","r":1,"x":8,"y":0.85},{"k":"d","r":1,"x":11,"y":0.7},{"k":"d","r":1,"x":13,"y":0.6},{"k":"d","r":1,"x":18,"y":0.53},{"k":"d","r":1,"x":25,"y":0.5},{"k":"d","r":1,"x":45,"y":0.5},{"k":"d","r":1,"x":70,"y":0.51},{"k":"d","r":1,"x":95,"y":0.49},{"k":"d","r":1,"x":120,"y":0.5},{"k":"d","r":1,"x":145,"y":0.52},{"k":"d","r":1,"x":170,"y":0.5},{"k":"d","r":1,"x":205,"y":0.51},
{"k":"d","r":2,"x":0,"y":1},{"k":"d","r":2,"x":7,"y":0.98},{"k":"d","r":2,"x":14,"y":0.9},{"k":"d","r":2,"x":21,"y":0.78},{"k":"d","r":2,"x":29,"y":0.62},{"k":"d","r":2,"x":38,"y":0.54},{"k":"d","r":2,"x":50,"y":0.51},{"k":"d","r":2,"x":70,"y":0.5},{"k":"d","r":2,"x":95,"y":0.5},{"k":"d","r":2,"x":120,"y":0.49},{"k":"d","r":2,"x":145,"y":0.51},{"k":"d","r":2,"x":170,"y":0.49},{"k":"d","r":2,"x":205,"y":0.5},
{"k":"d","r":3,"x":0,"y":1},{"k":"d","r":3,"x":10,"y":0.99},{"k":"d","r":3,"x":20,"y":0.97},{"k":"d","r":3,"x":30,"y":0.92},{"k":"d","r":3,"x":40,"y":0.85},{"k":"d","r":3,"x":48,"y":0.8},{"k":"d","r":3,"x":61,"y":0.7},{"k":"d","r":3,"x":70,"y":0.65},{"k":"d","r":3,"x":79,"y":0.6},{"k":"d","r":3,"x":96,"y":0.55},{"k":"d","r":3,"x":110,"y":0.53},{"k":"d","r":3,"x":120,"y":0.52},{"k":"d","r":3,"x":140,"y":0.5},{"k":"d","r":3,"x":165,"y":0.51},{"k":"d","r":3,"x":190,"y":0.5},{"k":"d","r":3,"x":205,"y":0.49},
{"k":"d","r":4,"x":0,"y":1},{"k":"d","r":4,"x":25,"y":0.99},{"k":"d","r":4,"x":50,"y":0.98},{"k":"d","r":4,"x":75,"y":0.975},{"k":"d","r":4,"x":100,"y":0.97},{"k":"d","r":4,"x":125,"y":0.975},{"k":"d","r":4,"x":150,"y":0.96},{"k":"d","r":4,"x":175,"y":0.95},{"k":"d","r":4,"x":190,"y":0.945},{"k":"d","r":4,"x":205,"y":0.93},
{"k":"b","r":1,"x":0,"y":1},{"k":"b","r":1,"x":5,"y":0.97},{"k":"b","r":1,"x":10,"y":0.86},{"k":"b","r":1,"x":13,"y":0.72},{"k":"b","r":1,"x":16,"y":0.6},{"k":"b","r":1,"x":21,"y":0.53},{"k":"b","r":1,"x":30,"y":0.5},{"k":"b","r":1,"x":50,"y":0.51},{"k":"b","r":1,"x":75,"y":0.5},{"k":"b","r":1,"x":100,"y":0.5},{"k":"b","r":1,"x":125,"y":0.51},{"k":"b","r":1,"x":150,"y":0.49},{"k":"b","r":1,"x":175,"y":0.5},{"k":"b","r":1,"x":205,"y":0.5},
{"k":"b","r":2,"x":0,"y":1},{"k":"b","r":2,"x":10,"y":0.98},{"k":"b","r":2,"x":20,"y":0.92},{"k":"b","r":2,"x":30,"y":0.8},{"k":"b","r":2,"x":42,"y":0.62},{"k":"b","r":2,"x":52,"y":0.55},{"k":"b","r":2,"x":65,"y":0.51},{"k":"b","r":2,"x":85,"y":0.5},{"k":"b","r":2,"x":110,"y":0.51},{"k":"b","r":2,"x":135,"y":0.5},{"k":"b","r":2,"x":160,"y":0.49},{"k":"b","r":2,"x":185,"y":0.51},{"k":"b","r":2,"x":205,"y":0.5},
{"k":"b","r":3,"x":0,"y":1},{"k":"b","r":3,"x":15,"y":0.97},{"k":"b","r":3,"x":30,"y":0.9},{"k":"b","r":3,"x":45,"y":0.85},{"k":"b","r":3,"x":67,"y":0.8},{"k":"b","r":3,"x":83,"y":0.75},{"k":"b","r":3,"x":104,"y":0.65},{"k":"b","r":3,"x":129,"y":0.55},{"k":"b","r":3,"x":145,"y":0.47},{"k":"b","r":3,"x":160,"y":0.45},{"k":"b","r":3,"x":175,"y":0.47},{"k":"b","r":3,"x":190,"y":0.49},{"k":"b","r":3,"x":205,"y":0.5},
{"k":"b","r":4,"x":0,"y":1},{"k":"b","r":4,"x":50,"y":0.995},{"k":"b","r":4,"x":100,"y":0.995},{"k":"b","r":4,"x":150,"y":0.99},{"k":"b","r":4,"x":205,"y":0.99}
],
"p5":[
{"k":"a","r":1,"x":0,"y":0},{"k":"a","r":1,"x":50,"y":0.03},{"k":"a","r":1,"x":100,"y":0.07},{"k":"a","r":1,"x":150,"y":0.12},{"k":"a","r":1,"x":200,"y":0.18},{"k":"a","r":1,"x":250,"y":0.25},{"k":"a","r":1,"x":300,"y":0.27},{"k":"a","r":1,"x":350,"y":0.33},{"k":"a","r":1,"x":400,"y":0.38},{"k":"a","r":1,"x":450,"y":0.42},{"k":"a","r":1,"x":500,"y":0.37},{"k":"a","r":1,"x":550,"y":0.43},{"k":"a","r":1,"x":600,"y":0.38},{"k":"a","r":1,"x":650,"y":0.33},{"k":"a","r":1,"x":700,"y":0.4},{"k":"a","r":1,"x":750,"y":0.36},{"k":"a","r":1,"x":800,"y":0.36},
{"k":"a","r":2,"x":0,"y":0},{"k":"a","r":2,"x":50,"y":0.02},{"k":"a","r":2,"x":100,"y":0.05},{"k":"a","r":2,"x":150,"y":0.08},{"k":"a","r":2,"x":200,"y":0.12},{"k":"a","r":2,"x":250,"y":0.14},{"k":"a","r":2,"x":300,"y":0.17},{"k":"a","r":2,"x":350,"y":0.2},{"k":"a","r":2,"x":400,"y":0.23},{"k":"a","r":2,"x":450,"y":0.22},{"k":"a","r":2,"x":500,"y":0.25},{"k":"a","r":2,"x":550,"y":0.3},{"k":"a","r":2,"x":600,"y":0.27},{"k":"a","r":2,"x":650,"y":0.32},{"k":"a","r":2,"x":700,"y":0.34},{"k":"a","r":2,"x":750,"y":0.33},{"k":"a","r":2,"x":800,"y":0.34},
{"k":"a","r":3,"x":0,"y":0},{"k":"a","r":3,"x":50,"y":0.03},{"k":"a","r":3,"x":100,"y":0.06},{"k":"a","r":3,"x":150,"y":0.09},{"k":"a","r":3,"x":200,"y":0.11},{"k":"a","r":3,"x":250,"y":0.13},{"k":"a","r":3,"x":300,"y":0.15},{"k":"a","r":3,"x":350,"y":0.14},{"k":"a","r":3,"x":400,"y":0.16},{"k":"a","r":3,"x":450,"y":0.19},{"k":"a","r":3,"x":500,"y":0.2},{"k":"a","r":3,"x":550,"y":0.17},{"k":"a","r":3,"x":600,"y":0.2},{"k":"a","r":3,"x":650,"y":0.18},{"k":"a","r":3,"x":700,"y":0.22},{"k":"a","r":3,"x":750,"y":0.2},{"k":"a","r":3,"x":800,"y":0.22},
{"k":"c","r":1,"x":0,"y":0},{"k":"c","r":1,"x":50,"y":0.03},{"k":"c","r":1,"x":100,"y":0.06},{"k":"c","r":1,"x":150,"y":0.1},{"k":"c","r":1,"x":200,"y":0.14},{"k":"c","r":1,"x":250,"y":0.2},{"k":"c","r":1,"x":300,"y":0.22},{"k":"c","r":1,"x":350,"y":0.28},{"k":"c","r":1,"x":400,"y":0.33},{"k":"c","r":1,"x":450,"y":0.37},{"k":"c","r":1,"x":500,"y":0.42},{"k":"c","r":1,"x":550,"y":0.45},{"k":"c","r":1,"x":600,"y":0.5},{"k":"c","r":1,"x":620,"y":0.57},{"k":"c","r":1,"x":650,"y":0.53},{"k":"c","r":1,"x":700,"y":0.53},{"k":"c","r":1,"x":750,"y":0.56},{"k":"c","r":1,"x":800,"y":0.62},
{"k":"c","r":2,"x":0,"y":0},{"k":"c","r":2,"x":50,"y":0.02},{"k":"c","r":2,"x":100,"y":0.05},{"k":"c","r":2,"x":150,"y":0.08},{"k":"c","r":2,"x":200,"y":0.1},{"k":"c","r":2,"x":250,"y":0.13},{"k":"c","r":2,"x":300,"y":0.15},{"k":"c","r":2,"x":350,"y":0.12},{"k":"c","r":2,"x":400,"y":0.14},{"k":"c","r":2,"x":450,"y":0.16},{"k":"c","r":2,"x":500,"y":0.19},{"k":"c","r":2,"x":550,"y":0.21},{"k":"c","r":2,"x":600,"y":0.25},{"k":"c","r":2,"x":650,"y":0.27},{"k":"c","r":2,"x":700,"y":0.3},{"k":"c","r":2,"x":750,"y":0.29},{"k":"c","r":2,"x":800,"y":0.35},
{"k":"c","r":3,"x":0,"y":0},{"k":"c","r":3,"x":50,"y":0.02},{"k":"c","r":3,"x":100,"y":0.04},{"k":"c","r":3,"x":150,"y":0.06},{"k":"c","r":3,"x":200,"y":0.08},{"k":"c","r":3,"x":250,"y":0.1},{"k":"c","r":3,"x":300,"y":0.1},{"k":"c","r":3,"x":350,"y":0.12},{"k":"c","r":3,"x":400,"y":0.11},{"k":"c","r":3,"x":450,"y":0.13},{"k":"c","r":3,"x":500,"y":0.14},{"k":"c","r":3,"x":550,"y":0.13},{"k":"c","r":3,"x":600,"y":0.15},{"k":"c","r":3,"x":650,"y":0.17},{"k":"c","r":3,"x":700,"y":0.19},{"k":"c","r":3,"x":750,"y":0.2},{"k":"c","r":3,"x":800,"y":0.2},
{"k":"e","r":1,"x":0,"y":0},{"k":"e","r":1,"x":50,"y":0.04},{"k":"e","r":1,"x":100,"y":0.07},{"k":"e","r":1,"x":150,"y":0.1},{"k":"e","r":1,"x":200,"y":0.14},{"k":"e","r":1,"x":250,"y":0.17},{"k":"e","r":1,"x":300,"y":0.2},{"k":"e","r":1,"x":350,"y":0.22},{"k":"e","r":1,"x":400,"y":0.24},{"k":"e","r":1,"x":450,"y":0.27},{"k":"e","r":1,"x":500,"y":0.31},{"k":"e","r":1,"x":550,"y":0.33},{"k":"e","r":1,"x":600,"y":0.35},{"k":"e","r":1,"x":650,"y":0.3},{"k":"e","r":1,"x":700,"y":0.27},{"k":"e","r":1,"x":750,"y":0.25},{"k":"e","r":1,"x":800,"y":0.27},
{"k":"e","r":2,"x":0,"y":0},{"k":"e","r":2,"x":50,"y":0.03},{"k":"e","r":2,"x":100,"y":0.05},{"k":"e","r":2,"x":150,"y":0.08},{"k":"e","r":2,"x":200,"y":0.1},{"k":"e","r":2,"x":250,"y":0.13},{"k":"e","r":2,"x":300,"y":0.16},{"k":"e","r":2,"x":350,"y":0.14},{"k":"e","r":2,"x":400,"y":0.17},{"k":"e","r":2,"x":450,"y":0.2},{"k":"e","r":2,"x":500,"y":0.21},{"k":"e","r":2,"x":550,"y":0.2},{"k":"e","r":2,"x":600,"y":0.24},{"k":"e","r":2,"x":650,"y":0.22},{"k":"e","r":2,"x":700,"y":0.24},{"k":"e","r":2,"x":750,"y":0.23},{"k":"e","r":2,"x":800,"y":0.22},
{"k":"e","r":3,"x":0,"y":0},{"k":"e","r":3,"x":50,"y":0.02},{"k":"e","r":3,"x":100,"y":0.04},{"k":"e","r":3,"x":150,"y":0.07},{"k":"e","r":3,"x":200,"y":0.08},{"k":"e","r":3,"x":250,"y":0.1},{"k":"e","r":3,"x":300,"y":0.12},{"k":"e","r":3,"x":350,"y":0.14},{"k":"e","r":3,"x":400,"y":0.12},{"k":"e","r":3,"x":450,"y":0.13},{"k":"e","r":3,"x":500,"y":0.15},{"k":"e","r":3,"x":550,"y":0.12},{"k":"e","r":3,"x":600,"y":0.09},{"k":"e","r":3,"x":650,"y":0.11},{"k":"e","r":3,"x":700,"y":0.13},{"k":"e","r":3,"x":750,"y":0.14},{"k":"e","r":3,"x":800,"y":0.16},
{"k":"b","r":1,"x":0,"y":1},{"k":"b","r":1,"x":50,"y":0.97},{"k":"b","r":1,"x":100,"y":0.93},{"k":"b","r":1,"x":150,"y":0.89},{"k":"b","r":1,"x":200,"y":0.85},{"k":"b","r":1,"x":250,"y":0.8},{"k":"b","r":1,"x":300,"y":0.74},{"k":"b","r":1,"x":350,"y":0.7},{"k":"b","r":1,"x":400,"y":0.65},{"k":"b","r":1,"x":430,"y":0.59},{"k":"b","r":1,"x":450,"y":0.61},{"k":"b","r":1,"x":500,"y":0.63},{"k":"b","r":1,"x":550,"y":0.6},{"k":"b","r":1,"x":600,"y":0.62},{"k":"b","r":1,"x":650,"y":0.67},{"k":"b","r":1,"x":700,"y":0.66},{"k":"b","r":1,"x":750,"y":0.65},{"k":"b","r":1,"x":800,"y":0.64},
{"k":"b","r":2,"x":0,"y":1},{"k":"b","r":2,"x":50,"y":0.97},{"k":"b","r":2,"x":100,"y":0.95},{"k":"b","r":2,"x":150,"y":0.92},{"k":"b","r":2,"x":200,"y":0.89},{"k":"b","r":2,"x":250,"y":0.87},{"k":"b","r":2,"x":300,"y":0.86},{"k":"b","r":2,"x":350,"y":0.84},{"k":"b","r":2,"x":400,"y":0.8},{"k":"b","r":2,"x":450,"y":0.78},{"k":"b","r":2,"x":500,"y":0.77},{"k":"b","r":2,"x":550,"y":0.73},{"k":"b","r":2,"x":600,"y":0.75},{"k":"b","r":2,"x":650,"y":0.7},{"k":"b","r":2,"x":700,"y":0.71},{"k":"b","r":2,"x":750,"y":0.72},{"k":"b","r":2,"x":800,"y":0.66},
{"k":"b","r":3,"x":0,"y":1},{"k":"b","r":3,"x":50,"y":0.98},{"k":"b","r":3,"x":100,"y":0.96},{"k":"b","r":3,"x":150,"y":0.93},{"k":"b","r":3,"x":200,"y":0.92},{"k":"b","r":3,"x":250,"y":0.88},{"k":"b","r":3,"x":300,"y":0.86},{"k":"b","r":3,"x":350,"y":0.85},{"k":"b","r":3,"x":400,"y":0.86},{"k":"b","r":3,"x":450,"y":0.83},{"k":"b","r":3,"x":500,"y":0.8},{"k":"b","r":3,"x":550,"y":0.82},{"k":"b","r":3,"x":600,"y":0.8},{"k":"b","r":3,"x":650,"y":0.82},{"k":"b","r":3,"x":700,"y":0.79},{"k":"b","r":3,"x":750,"y":0.8},{"k":"b","r":3,"x":800,"y":0.78},
{"k":"d","r":1,"x":0,"y":1},{"k":"d","r":1,"x":50,"y":0.97},{"k":"d","r":1,"x":100,"y":0.94},{"k":"d","r":1,"x":150,"y":0.9},{"k":"d","r":1,"x":200,"y":0.86},{"k":"d","r":1,"x":250,"y":0.8},{"k":"d","r":1,"x":300,"y":0.78},{"k":"d","r":1,"x":350,"y":0.72},{"k":"d","r":1,"x":400,"y":0.67},{"k":"d","r":1,"x":450,"y":0.63},{"k":"d","r":1,"x":500,"y":0.58},{"k":"d","r":1,"x":550,"y":0.55},{"k":"d","r":1,"x":600,"y":0.5},{"k":"d","r":1,"x":620,"y":0.43},{"k":"d","r":1,"x":650,"y":0.47},{"k":"d","r":1,"x":700,"y":0.47},{"k":"d","r":1,"x":750,"y":0.44},{"k":"d","r":1,"x":800,"y":0.38},
{"k":"d","r":2,"x":0,"y":1},{"k":"d","r":2,"x":50,"y":0.98},{"k":"d","r":2,"x":100,"y":0.95},{"k":"d","r":2,"x":150,"y":0.92},{"k":"d","r":2,"x":200,"y":0.93},{"k":"d","r":2,"x":250,"y":0.9},{"k":"d","r":2,"x":300,"y":0.88},{"k":"d","r":2,"x":350,"y":0.86},{"k":"d","r":2,"x":400,"y":0.87},{"k":"d","r":2,"x":450,"y":0.84},{"k":"d","r":2,"x":500,"y":0.86},{"k":"d","r":2,"x":550,"y":0.83},{"k":"d","r":2,"x":600,"y":0.81},{"k":"d","r":2,"x":650,"y":0.79},{"k":"d","r":2,"x":700,"y":0.8},{"k":"d","r":2,"x":750,"y":0.78},{"k":"d","r":2,"x":800,"y":0.8},
{"k":"d","r":3,"x":0,"y":1},{"k":"d","r":3,"x":50,"y":0.97},{"k":"d","r":3,"x":100,"y":0.94},{"k":"d","r":3,"x":150,"y":0.91},{"k":"d","r":3,"x":200,"y":0.9},{"k":"d","r":3,"x":250,"y":0.87},{"k":"d","r":3,"x":300,"y":0.85},{"k":"d","r":3,"x":350,"y":0.86},{"k":"d","r":3,"x":400,"y":0.82},{"k":"d","r":3,"x":450,"y":0.8},{"k":"d","r":3,"x":500,"y":0.78},{"k":"d","r":3,"x":550,"y":0.8},{"k":"d","r":3,"x":600,"y":0.75},{"k":"d","r":3,"x":650,"y":0.73},{"k":"d","r":3,"x":700,"y":0.7},{"k":"d","r":3,"x":750,"y":0.68},{"k":"d","r":3,"x":800,"y":0.65},
{"k":"f","r":1,"x":0,"y":1},{"k":"f","r":1,"x":50,"y":0.98},{"k":"f","r":1,"x":100,"y":0.95},{"k":"f","r":1,"x":150,"y":0.93},{"k":"f","r":1,"x":200,"y":0.9},{"k":"f","r":1,"x":250,"y":0.88},{"k":"f","r":1,"x":300,"y":0.87},{"k":"f","r":1,"x":350,"y":0.86},{"k":"f","r":1,"x":400,"y":0.88},{"k":"f","r":1,"x":450,"y":0.86},{"k":"f","r":1,"x":500,"y":0.87},{"k":"f","r":1,"x":550,"y":0.9},{"k":"f","r":1,"x":600,"y":0.92},{"k":"f","r":1,"x":650,"y":0.88},{"k":"f","r":1,"x":700,"y":0.87},{"k":"f","r":1,"x":750,"y":0.89},{"k":"f","r":1,"x":800,"y":0.85},
{"k":"f","r":2,"x":0,"y":1},{"k":"f","r":2,"x":50,"y":0.97},{"k":"f","r":2,"x":100,"y":0.94},{"k":"f","r":2,"x":150,"y":0.9},{"k":"f","r":2,"x":200,"y":0.88},{"k":"f","r":2,"x":250,"y":0.85},{"k":"f","r":2,"x":300,"y":0.82},{"k":"f","r":2,"x":350,"y":0.8},{"k":"f","r":2,"x":400,"y":0.78},{"k":"f","r":2,"x":450,"y":0.76},{"k":"f","r":2,"x":500,"y":0.72},{"k":"f","r":2,"x":550,"y":0.68},{"k":"f","r":2,"x":600,"y":0.65},{"k":"f","r":2,"x":650,"y":0.68},{"k":"f","r":2,"x":700,"y":0.72},{"k":"f","r":2,"x":750,"y":0.7},{"k":"f","r":2,"x":800,"y":0.73},
{"k":"f","r":3,"x":0,"y":1},{"k":"f","r":3,"x":50,"y":0.98},{"k":"f","r":3,"x":100,"y":0.96},{"k":"f","r":3,"x":150,"y":0.94},{"k":"f","r":3,"x":200,"y":0.92},{"k":"f","r":3,"x":250,"y":0.9},{"k":"f","r":3,"x":300,"y":0.89},{"k":"f","r":3,"x":350,"y":0.87},{"k":"f","r":3,"x":400,"y":0.85},{"k":"f","r":3,"x":450,"y":0.83},{"k":"f","r":3,"x":500,"y":0.8},{"k":"f","r":3,"x":550,"y":0.79},{"k":"f","r":3,"x":600,"y":0.8},{"k":"f","r":3,"x":650,"y":0.77},{"k":"f","r":3,"x":700,"y":0.79},{"k":"f","r":3,"x":750,"y":0.76},{"k":"f","r":3,"x":800,"y":0.78}
],
"p6":[
{"k":"e","r":1,"x":0,"y":0},{"k":"e","r":1,"x":2,"y":0.02},{"k":"e","r":1,"x":6,"y":0.12},{"k":"e","r":1,"x":10,"y":0.5},{"k":"e","r":1,"x":14,"y":0.88},{"k":"e","r":1,"x":18,"y":0.98},{"k":"e","r":1,"x":800,"y":1},
{"k":"e","r":2,"x":0,"y":0},{"k":"e","r":2,"x":10,"y":0.02},{"k":"e","r":2,"x":14,"y":0.12},{"k":"e","r":2,"x":18,"y":0.5},{"k":"e","r":2,"x":22,"y":0.88},{"k":"e","r":2,"x":26,"y":0.98},{"k":"e","r":2,"x":800,"y":1},
{"k":"e","r":3,"x":0,"y":0},{"k":"e","r":3,"x":18,"y":0.02},{"k":"e","r":3,"x":22,"y":0.12},{"k":"e","r":3,"x":26,"y":0.5},{"k":"e","r":3,"x":30,"y":0.88},{"k":"e","r":3,"x":34,"y":0.98},{"k":"e","r":3,"x":800,"y":1},
{"k":"e","r":4,"x":0,"y":0},{"k":"e","r":4,"x":27,"y":0.02},{"k":"e","r":4,"x":31,"y":0.12},{"k":"e","r":4,"x":35,"y":0.5},{"k":"e","r":4,"x":39,"y":0.88},{"k":"e","r":4,"x":43,"y":0.98},{"k":"e","r":4,"x":800,"y":1},
{"k":"f","r":1,"x":0,"y":1},{"k":"f","r":1,"x":1,"y":0.98},{"k":"f","r":1,"x":3,"y":0.85},{"k":"f","r":1,"x":5,"y":0.5},{"k":"f","r":1,"x":8,"y":0.12},{"k":"f","r":1,"x":12,"y":0.02},{"k":"f","r":1,"x":800,"y":0},
{"k":"f","r":2,"x":0,"y":1},{"k":"f","r":2,"x":3,"y":0.98},{"k":"f","r":2,"x":6,"y":0.88},{"k":"f","r":2,"x":10,"y":0.5},{"k":"f","r":2,"x":14,"y":0.12},{"k":"f","r":2,"x":18,"y":0.02},{"k":"f","r":2,"x":800,"y":0},
{"k":"f","r":3,"x":0,"y":1},{"k":"f","r":3,"x":10,"y":0.98},{"k":"f","r":3,"x":14,"y":0.88},{"k":"f","r":3,"x":18,"y":0.5},{"k":"f","r":3,"x":22,"y":0.12},{"k":"f","r":3,"x":26,"y":0.02},{"k":"f","r":3,"x":800,"y":0},
{"k":"f","r":4,"x":0,"y":1},{"k":"f","r":4,"x":20,"y":0.98},{"k":"f","r":4,"x":24,"y":0.88},{"k":"f","r":4,"x":28,"y":0.5},{"k":"f","r":4,"x":32,"y":0.12},{"k":"f","r":4,"x":36,"y":0.02},{"k":"f","r":4,"x":800,"y":0},
{"k":"c","r":1,"x":0,"y":0},{"k":"c","r":1,"x":4,"y":0.02},{"k":"c","r":1,"x":12,"y":0.12},{"k":"c","r":1,"x":20,"y":0.5},{"k":"c","r":1,"x":28,"y":0.88},{"k":"c","r":1,"x":36,"y":0.98},{"k":"c","r":1,"x":800,"y":1},
{"k":"c","r":2,"x":0,"y":0},{"k":"c","r":2,"x":19,"y":0.02},{"k":"c","r":2,"x":27,"y":0.12},{"k":"c","r":2,"x":35,"y":0.5},{"k":"c","r":2,"x":43,"y":0.88},{"k":"c","r":2,"x":51,"y":0.98},{"k":"c","r":2,"x":800,"y":1},
{"k":"c","r":3,"x":0,"y":0},{"k":"c","r":3,"x":34,"y":0.02},{"k":"c","r":3,"x":42,"y":0.12},{"k":"c","r":3,"x":50,"y":0.5},{"k":"c","r":3,"x":58,"y":0.88},{"k":"c","r":3,"x":66,"y":0.98},{"k":"c","r":3,"x":800,"y":1},
{"k":"c","r":4,"x":0,"y":0},{"k":"c","r":4,"x":48,"y":0.02},{"k":"c","r":4,"x":58,"y":0.12},{"k":"c","r":4,"x":68,"y":0.5},{"k":"c","r":4,"x":78,"y":0.85},{"k":"c","r":4,"x":90,"y":0.97},{"k":"c","r":4,"x":105,"y":0.995},{"k":"c","r":4,"x":800,"y":1},
{"k":"d","r":1,"x":0,"y":1},{"k":"d","r":1,"x":1,"y":0.98},{"k":"d","r":1,"x":7,"y":0.88},{"k":"d","r":1,"x":15,"y":0.5},{"k":"d","r":1,"x":23,"y":0.12},{"k":"d","r":1,"x":31,"y":0.02},{"k":"d","r":1,"x":800,"y":0},
{"k":"d","r":2,"x":0,"y":1},{"k":"d","r":2,"x":14,"y":0.98},{"k":"d","r":2,"x":22,"y":0.88},{"k":"d","r":2,"x":30,"y":0.5},{"k":"d","r":2,"x":38,"y":0.12},{"k":"d","r":2,"x":46,"y":0.02},{"k":"d","r":2,"x":800,"y":0},
{"k":"d","r":3,"x":0,"y":1},{"k":"d","r":3,"x":29,"y":0.98},{"k":"d","r":3,"x":37,"y":0.88},{"k":"d","r":3,"x":45,"y":0.5},{"k":"d","r":3,"x":53,"y":0.12},{"k":"d","r":3,"x":61,"y":0.02},{"k":"d","r":3,"x":800,"y":0},
{"k":"d","r":4,"x":0,"y":1},{"k":"d","r":4,"x":40,"y":0.97},{"k":"d","r":4,"x":50,"y":0.85},{"k":"d","r":4,"x":59,"y":0.5},{"k":"d","r":4,"x":75,"y":0.2},{"k":"d","r":4,"x":100,"y":0.05},{"k":"d","r":4,"x":130,"y":0.01},{"k":"d","r":4,"x":800,"y":0.005},
{"k":"a","r":1,"x":0,"y":0},{"k":"a","r":1,"x":5,"y":0.02},{"k":"a","r":1,"x":15,"y":0.12},{"k":"a","r":1,"x":25,"y":0.5},{"k":"a","r":1,"x":35,"y":0.88},{"k":"a","r":1,"x":45,"y":0.97},{"k":"a","r":1,"x":100,"y":0.99},{"k":"a","r":1,"x":800,"y":0.985},
{"k":"a","r":2,"x":0,"y":0},{"k":"a","r":2,"x":25,"y":0.02},{"k":"a","r":2,"x":35,"y":0.12},{"k":"a","r":2,"x":45,"y":0.5},{"k":"a","r":2,"x":55,"y":0.88},{"k":"a","r":2,"x":68,"y":0.97},{"k":"a","r":2,"x":120,"y":0.985},{"k":"a","r":2,"x":800,"y":0.99},
{"k":"a","r":3,"x":0,"y":0},{"k":"a","r":3,"x":38,"y":0.02},{"k":"a","r":3,"x":48,"y":0.12},{"k":"a","r":3,"x":60,"y":0.5},{"k":"a","r":3,"x":72,"y":0.85},{"k":"a","r":3,"x":88,"y":0.96},{"k":"a","r":3,"x":130,"y":0.985},{"k":"a","r":3,"x":800,"y":0.985},
{"k":"a","r":4,"x":0,"y":0},{"k":"a","r":4,"x":55,"y":0.02},{"k":"a","r":4,"x":66,"y":0.12},{"k":"a","r":4,"x":78,"y":0.5},{"k":"a","r":4,"x":92,"y":0.8},{"k":"a","r":4,"x":108,"y":0.9},{"k":"a","r":4,"x":128,"y":0.97},{"k":"a","r":4,"x":156,"y":0.985},{"k":"a","r":4,"x":800,"y":0.98},
{"k":"b","r":1,"x":0,"y":1},{"k":"b","r":1,"x":3,"y":0.98},{"k":"b","r":1,"x":10,"y":0.88},{"k":"b","r":1,"x":20,"y":0.5},{"k":"b","r":1,"x":30,"y":0.12},{"k":"b","r":1,"x":40,"y":0.03},{"k":"b","r":1,"x":100,"y":0.01},{"k":"b","r":1,"x":800,"y":0.01},
{"k":"b","r":2,"x":0,"y":1},{"k":"b","r":2,"x":20,"y":0.97},{"k":"b","r":2,"x":30,"y":0.88},{"k":"b","r":2,"x":40,"y":0.5},{"k":"b","r":2,"x":50,"y":0.12},{"k":"b","r":2,"x":62,"y":0.03},{"k":"b","r":2,"x":120,"y":0.012},{"k":"b","r":2,"x":800,"y":0.015},
{"k":"b","r":3,"x":0,"y":1},{"k":"b","r":3,"x":38,"y":0.97},{"k":"b","r":3,"x":48,"y":0.85},{"k":"b","r":3,"x":60,"y":0.5},{"k":"b","r":3,"x":72,"y":0.15},{"k":"b","r":3,"x":88,"y":0.04},{"k":"b","r":3,"x":130,"y":0.015},{"k":"b","r":3,"x":800,"y":0.01},
{"k":"b","r":4,"x":0,"y":1},{"k":"b","r":4,"x":50,"y":0.95},{"k":"b","r":4,"x":62,"y":0.8},{"k":"b","r":4,"x":70,"y":0.5},{"k":"b","r":4,"x":75,"y":0.3},{"k":"b","r":4,"x":88,"y":0.17},{"k":"b","r":4,"x":100,"y":0.1},{"k":"b","r":4,"x":125,"y":0.04},{"k":"b","r":4,"x":148,"y":0.02},{"k":"b","r":4,"x":800,"y":0.015}
]
},
"spacing":5.5,
"resolve":{"scale":{"x":"independent","y":"independent","color":"independent","strokeDash":"independent"},"legend":{"color":"independent","strokeDash":"independent"},"axis":{"x":"independent","y":"independent"}},
"vconcat":[
{"bounds":"flush","spacing":35,
"resolve":{"scale":{"x":"independent","y":"independent","color":"independent","strokeDash":"independent"},"legend":{"color":"independent","strokeDash":"independent"},"axis":{"x":"independent","y":"independent"}},
"hconcat":[
{"width":333,"height":214,"data":{"name":"p1"},
"title":{"text":"Without games","anchor":"start","frame":"group","dx":59,"fontSize":29.5,"font":"DejaVu Sans","fontWeight":"normal","color":"#000","baseline":"alphabetic","offset":-13},
"mark":{"type":"line","interpolate":"monotone","strokeWidth":1.5},
"encoding":{
"x":{"field":"x","type":"quantitative","scale":{"domain":[-2,205.3],"nice":false,"zero":false},"axis":{"values":[0,25,50,75,100,125,150,175,200]}},
"y":{"field":"y","type":"quantitative","scale":{"domain":[0,1],"nice":false},"axis":{"values":[0,0.2,0.4,0.6,0.8,1],"format":".1f"}},
"color":{"field":"k","type":"nominal","scale":{"domain":["a","b","c","d","e","f"],"range":["#00ffff","#00ffff","#ff0000","#ff0000","#0000ff","#0000ff"]},"legend":{"legendX":188,"legendY":56,"labelExpr":"datum.label=='a'?'genotype 1, s1=0.05':datum.label=='b'?'genotype 2, s1=0.05':datum.label=='c'?'genotype 1, s1=0.1':datum.label=='d'?'genotype 2, s1=0.1':datum.label=='e'?'genotype 1, s1=0.2':'genotype 2, s1=0.2'"}},
"strokeDash":{"field":"k","type":"nominal","scale":{"domain":["a","b","c","d","e","f"],"range":[[1,0],[5.5,2.4],[1,0],[5.5,2.4],[1,0],[5.5,2.4]]},"legend":{"legendX":188,"legendY":56,"labelExpr":"datum.label=='a'?'genotype 1, s1=0.05':datum.label=='b'?'genotype 2, s1=0.05':datum.label=='c'?'genotype 1, s1=0.1':datum.label=='d'?'genotype 2, s1=0.1':datum.label=='e'?'genotype 1, s1=0.2':'genotype 2, s1=0.2'"}},
"detail":{"field":"r","type":"nominal"}
}},
{"width":331,"height":214,
"title":{"text":"With games","anchor":"start","frame":"group","dx":20,"fontSize":29.5,"font":"DejaVu Sans","fontWeight":"normal","color":"#000","baseline":"alphabetic","offset":-13},
"layer":[
{"data":{"name":"p2"},"mark":{"type":"line","interpolate":"monotone","strokeWidth":1.5},
"encoding":{
"x":{"field":"x","type":"quantitative","scale":{"domain":[-1,206],"nice":false,"zero":false},"axis":{"values":[0,25,50,75,100,125,150,175,200]}},
"y":{"field":"y","type":"quantitative","scale":{"domain":[0,1],"nice":false},"axis":{"values":[0,0.2,0.4,0.6,0.8,1],"format":".1f"}},
"color":{"field":"k","type":"nominal","scale":{"domain":["a","b","c","d","e","f"],"range":["#00ffff","#00ffff","#ff0000","#ff0000","#0000ff","#0000ff"]},"legend":{"legendX":186,"legendY":60,"labelExpr":"datum.label=='a'?'genotype 1, s1=0.05':datum.label=='b'?'genotype 2, s1=0.05':datum.label=='c'?'genotype 1, s1=0.1':datum.label=='d'?'genotype 2, s1=0.1':datum.label=='e'?'genotype 1, s1=0.2':'genotype 2, s1=0.2'"}},
"strokeDash":{"field":"k","type":"nominal","scale":{"domain":["a","b","c","d","e","f"],"range":[[1,0],[5.5,2.4],[1,0],[5.5,2.4],[1,0],[5.5,2.4]]},"legend":{"legendX":186,"legendY":60,"labelExpr":"datum.label=='a'?'genotype 1, s1=0.05':datum.label=='b'?'genotype 2, s1=0.05':datum.label=='c'?'genotype 1, s1=0.1':datum.label=='d'?'genotype 2, s1=0.1':datum.label=='e'?'genotype 1, s1=0.2':'genotype 2, s1=0.2'"}},
"detail":{"field":"r","type":"nominal"}
}},
{"data":{"values":[{}]},"mark":{"type":"rule","opacity":0},
"encoding":{"y":{"datum":0.5,"type":"quantitative","axis":{"orient":"right","title":"Maintenance","labels":false,"ticks":false,"grid":false,"domain":false,"titleAngle":90,"titleFontSize":29.5,"titleFont":"DejaVu Sans","titleFontWeight":"normal","titleColor":"#000","titleBaseline":"alphabetic","titleAlign":"center","titleX":3,"titleY":100}}}}
],
"resolve":{"axis":{"y":"independent"}}
}
]},
{"spacing":-1.5,
"resolve":{"scale":{"x":"independent","y":"independent","color":"independent","strokeDash":"independent"},"legend":{"color":"independent","strokeDash":"independent"},"axis":{"x":"independent","y":"independent"}},
"vconcat":[
{"bounds":"flush","spacing":35,
"resolve":{"scale":{"x":"independent","y":"independent","color":"independent","strokeDash":"independent"},"legend":{"color":"independent","strokeDash":"independent"},"axis":{"x":"independent","y":"independent"}},
"hconcat":[
{"width":333,"height":214,"data":{"name":"p3"},
"mark":{"type":"line","interpolate":"monotone","strokeWidth":1.5},
"encoding":{
"x":{"field":"x","type":"quantitative","scale":{"domain":[-2.7,205.2],"nice":false,"zero":false},"axis":{"values":[0,25,50,75,100,125,150,175,200]}},
"y":{"field":"y","type":"quantitative","scale":{"domain":[0,1],"nice":false},"axis":{"values":[0,0.2,0.4,0.6,0.8,1],"format":".1f"}},
"color":{"field":"k","type":"nominal","scale":{"domain":["a","b","c","d","e","f"],"range":["#00ffff","#00ffff","#ff0000","#ff0000","#0000ff","#0000ff"]},"legend":{"legendX":188,"legendY":61,"labelExpr":"datum.label=='a'?'genotype 1, s1=0.05':datum.label=='b'?'genotype 2, s1=0.05':datum.label=='c'?'genotype 1, s1=0.1':datum.label=='d'?'genotype 2, s1=0.1':datum.label=='e'?'genotype 1, s1=0.2':'genotype 2, s1=0.2'"}},
"strokeDash":{"field":"k","type":"nominal","scale":{"domain":["a","b","c","d","e","f"],"range":[[1,0],[5.5,2.4],[1,0],[5.5,2.4],[1,0],[5.5,2.4]]},"legend":{"legendX":188,"legendY":61,"labelExpr":"datum.label=='a'?'genotype 1, s1=0.05':datum.label=='b'?'genotype 2, s1=0.05':datum.label=='c'?'genotype 1, s1=0.1':datum.label=='d'?'genotype 2, s1=0.1':datum.label=='e'?'genotype 1, s1=0.2':'genotype 2, s1=0.2'"}},
"detail":{"field":"r","type":"nominal"}
}},
{"width":331,"height":214,
"layer":[
{"data":{"name":"p4"},"mark":{"type":"line","interpolate":"monotone","strokeWidth":1.5},
"encoding":{
"x":{"field":"x","type":"quantitative","scale":{"domain":[-1.5,205],"nice":false,"zero":false},"axis":{"values":[0,25,50,75,100,125,150,175,200]}},
"y":{"field":"y","type":"quantitative","scale":{"domain":[0,1],"nice":false},"axis":{"values":[0,0.2,0.4,0.6,0.8,1],"format":".1f"}},
"color":{"field":"k","type":"nominal","scale":{"domain":["a","b","c","d","e","f"],"range":["#00ffff","#00ffff","#ff0000","#ff0000","#0000ff","#0000ff"]},"legend":{"legendX":190,"legendY":3,"labelExpr":"datum.label=='a'?'genotype 1, s1=0.05':datum.label=='b'?'genotype 2, s1=0.05':datum.label=='c'?'genotype 1, s1=0.1':datum.label=='d'?'genotype 2, s1=0.1':datum.label=='e'?'genotype 1, s1=0.2':'genotype 2, s1=0.2'"}},
"strokeDash":{"field":"k","type":"nominal","scale":{"domain":["a","b","c","d","e","f"],"range":[[1,0],[5.5,2.4],[1,0],[5.5,2.4],[1,0],[5.5,2.4]]},"legend":{"legendX":190,"legendY":3,"labelExpr":"datum.label=='a'?'genotype 1, s1=0.05':datum.label=='b'?'genotype 2, s1=0.05':datum.label=='c'?'genotype 1, s1=0.1':datum.label=='d'?'genotype 2, s1=0.1':datum.label=='e'?'genotype 1, s1=0.2':'genotype 2, s1=0.2'"}},
"detail":{"field":"r","type":"nominal"}
}},
{"data":{"values":[{}]},"mark":{"type":"rule","opacity":0},
"encoding":{"y":{"datum":0.5,"type":"quantitative","axis":{"orient":"right","title":"Masking","labels":false,"ticks":false,"grid":false,"domain":false,"titleAngle":90,"titleFontSize":29.5,"titleFont":"DejaVu Sans","titleFontWeight":"normal","titleColor":"#000","titleBaseline":"alphabetic","titleAlign":"center","titleX":10,"titleY":103}}}}
],
"resolve":{"axis":{"y":"independent"}}
}
]},
{"bounds":"flush","spacing":35,
"resolve":{"scale":{"x":"independent","y":"independent","color":"independent","strokeDash":"independent"},"legend":{"color":"independent","strokeDash":"independent"},"axis":{"x":"independent","y":"independent"}},
"hconcat":[
{"width":333,"height":214,"data":{"name":"p5"},
"mark":{"type":"line","strokeWidth":1.5},
"encoding":{
"x":{"field":"x","type":"quantitative","scale":{"domain":[-1.5,801.7],"nice":false,"zero":false},"axis":{"values":[0,100,200,300,400,500,600,700,800]}},
"y":{"field":"y","type":"quantitative","scale":{"domain":[0,1],"nice":false},"axis":{"values":[0,0.2,0.4,0.6,0.8,1],"format":".1f"}},
"color":{"field":"k","type":"nominal","scale":{"domain":["a","b","c","d","e","f"],"range":["#00ffff","#00ffff","#ff0000","#ff0000","#0000ff","#0000ff"]},"legend":{"legendX":5,"legendY":60,"labelExpr":"datum.label=='a'?'genotype 1, s1=0.05':datum.label=='b'?'genotype 2, s1=0.05':datum.label=='c'?'genotype 1, s1=0.1':datum.label=='d'?'genotype 2, s1=0.1':datum.label=='e'?'genotype 1, s1=0.2':'genotype 2, s1=0.2'"}},
"strokeDash":{"field":"k","type":"nominal","scale":{"domain":["a","b","c","d","e","f"],"range":[[1,0],[5.5,2.4],[1,0],[5.5,2.4],[1,0],[5.5,2.4]]},"legend":{"legendX":5,"legendY":60,"labelExpr":"datum.label=='a'?'genotype 1, s1=0.05':datum.label=='b'?'genotype 2, s1=0.05':datum.label=='c'?'genotype 1, s1=0.1':datum.label=='d'?'genotype 2, s1=0.1':datum.label=='e'?'genotype 1, s1=0.2':'genotype 2, s1=0.2'"}},
"detail":{"field":"r","type":"nominal"}
}},
{"width":331,"height":214,
"layer":[
{"data":{"name":"p6"},"mark":{"type":"line","interpolate":"monotone","strokeWidth":1.5},
"encoding":{
"x":{"field":"x","type":"quantitative","scale":{"domain":[-1,802],"nice":false,"zero":false},"axis":{"values":[0,100,200,300,400,500,600,700,800]}},
"y":{"field":"y","type":"quantitative","scale":{"domain":[0,1],"nice":false},"axis":{"values":[0,0.2,0.4,0.6,0.8,1],"format":".1f"}},
"color":{"field":"k","type":"nominal","scale":{"domain":["a","b","c","d","e","f"],"range":["#00ffff","#00ffff","#ff0000","#ff0000","#0000ff","#0000ff"]},"legend":{"legendX":186,"legendY":117,"labelExpr":"datum.label=='a'?'genotype 1, s1=0.05':datum.label=='b'?'genotype 2, s1=0.05':datum.label=='c'?'genotype 1, s1=0.1':datum.label=='d'?'genotype 2, s1=0.1':datum.label=='e'?'genotype 1, s1=0.2':'genotype 2, s1=0.2'"}},
"strokeDash":{"field":"k","type":"nominal","scale":{"domain":["a","b","c","d","e","f"],"range":[[1,0],[5.5,2.4],[1,0],[5.5,2.4],[1,0],[5.5,2.4]]},"legend":{"legendX":186,"legendY":117,"labelExpr":"datum.label=='a'?'genotype 1, s1=0.05':datum.label=='b'?'genotype 2, s1=0.05':datum.label=='c'?'genotype 1, s1=0.1':datum.label=='d'?'genotype 2, s1=0.1':datum.label=='e'?'genotype 1, s1=0.2':'genotype 2, s1=0.2'"}},
"detail":{"field":"r","type":"nominal"}
}},
{"data":{"values":[{}]},"mark":{"type":"rule","opacity":0},
"encoding":{"y":{"datum":0.5,"type":"quantitative","axis":{"orient":"right","title":"Mimicry","labels":false,"ticks":false,"grid":false,"domain":false,"titleAngle":90,"titleFontSize":29.5,"titleFont":"DejaVu Sans","titleFontWeight":"normal","titleColor":"#000","titleBaseline":"alphabetic","titleAlign":"center","titleX":9,"titleY":101}}}}
],
"resolve":{"axis":{"y":"independent"}}
}
]}
]}
]
}
